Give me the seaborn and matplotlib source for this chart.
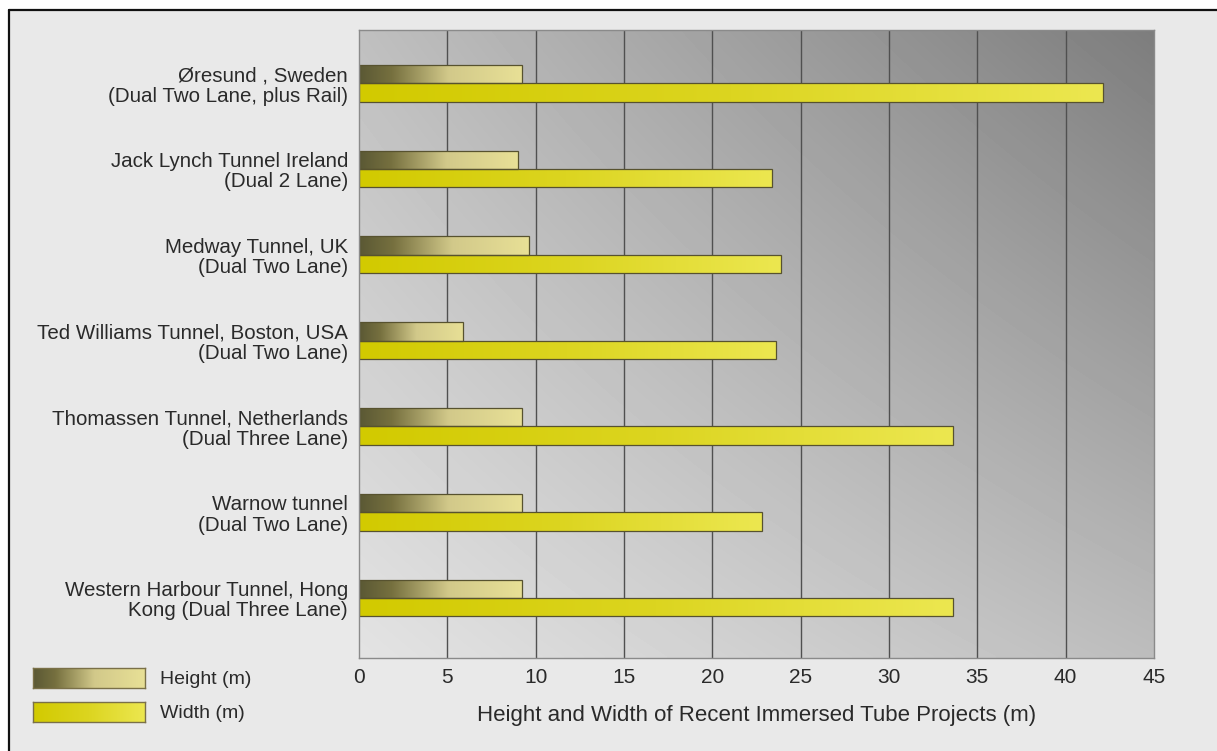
import numpy as np
import pandas as pd
import matplotlib
matplotlib.use("Agg")
import matplotlib.pyplot as plt
from matplotlib.colors import LinearSegmentedColormap
from matplotlib.lines import Line2D
import seaborn as sns

# data
projects = [
    "Øresund , Sweden\n(Dual Two Lane, plus Rail)",
    "Jack Lynch Tunnel Ireland\n(Dual 2 Lane)",
    "Medway Tunnel, UK\n(Dual Two Lane)",
    "Ted Williams Tunnel, Boston, USA\n(Dual Two Lane)",
    "Thomassen Tunnel, Netherlands\n(Dual Three Lane)",
    "Warnow tunnel\n(Dual Two Lane)",
    "Western Harbour Tunnel, Hong\nKong (Dual Three Lane)",
]
height_m = [9.2, 9.0, 9.6, 5.9, 9.2, 9.2, 9.2]
width_m = [42.1, 23.4, 23.9, 23.6, 33.6, 22.8, 33.6]
measures = ["Height (m)", "Width (m)"]
xticks = [0, 5, 10, 15, 20, 25, 30, 35, 40, 45]

df = pd.DataFrame({
    "project": projects * 2,
    "measure": [measures[0]] * len(projects) + [measures[1]] * len(projects),
    "value": height_m + width_m,
})

sns.set_style("white")
plt.rcParams["font.family"] = ["Liberation Sans", "DejaVu Sans"]

height_cmap = LinearSegmentedColormap.from_list(
    "h", [(0, "#5a5834"), (0.2, "#76703f"), (0.55, "#d2c98a"), (1, "#e8e096")])
width_cmap = LinearSegmentedColormap.from_list(
    "w", [(0, "#d2ca00"), (0.5, "#dcd520"), (1, "#ece750")])
txt_col = "#2a2a2a"

fig = plt.figure(figsize=(12.17, 7.51), dpi=100)
fig.patch.set_facecolor("white")
# outer frame panel
fig.patches.append(plt.Rectangle((9 / 1217, 0), 1, 1 - 10 / 751, transform=fig.transFigure,
                                 facecolor="#e9e9e9", edgecolor="none", zorder=-10))
fig.add_artist(Line2D([9 / 1217, 9 / 1217], [0, 1 - 10 / 751], color="#111111", lw=1.6,
                      transform=fig.transFigure))
fig.add_artist(Line2D([9 / 1217, 1], [1 - 10 / 751, 1 - 10 / 751], color="#111111", lw=1.6,
                      transform=fig.transFigure))

ax = fig.add_axes([359 / 1217, 1 - 658 / 751, (1154 - 359) / 1217, (658 - 30) / 751])

sns.barplot(data=df, y="project", x="value", hue="measure", orient="h",
            width=0.43, gap=0, legend=False, ax=ax,
            edgecolor="#57522f", linewidth=0.9)

# gradient fill for each bar
for i, p in enumerate(list(ax.patches)):
    x0, y0 = p.get_x(), p.get_y()
    w, h = p.get_width(), p.get_height()
    cmap = height_cmap if i < len(projects) else width_cmap
    grad = np.linspace(0, 1, 256).reshape(1, -1)
    p.set_facecolor("none")
    im = ax.imshow(grad, cmap=cmap, aspect="auto", extent=[x0, x0 + w, y0 + h, y0],
                   zorder=p.get_zorder() - 0.1, interpolation="bilinear")
    im.set_clip_path(p)

# background gradient (light bottom-left to dark top-right)
ylo, yhi = 6.70, -0.62
xx = np.linspace(0, 1, 200)[None, :]
up = (1 - np.linspace(0, 1, 200))[:, None]  # 1 at top row
bg = 0.89 - 0.15 * xx - 0.14 * up - 0.11 * xx * up
ax.imshow(bg, cmap="gray", vmin=0, vmax=1, aspect="auto", origin="upper",
          extent=[0, 45, ylo, yhi], zorder=-5, interpolation="bilinear")

ax.set_xlim(0, 45)
ax.set_ylim(ylo, yhi)
ax.set_xticks(xticks)
ax.set_xticklabels([str(t) for t in xticks])
for t in xticks[1:-1]:
    ax.axvline(t, color="#505050", lw=1.0, zorder=0)

for s in ax.spines.values():
    s.set_color("#8a8a8a")
    s.set_linewidth(1.0)

ax.tick_params(axis="x", length=0, pad=7, labelsize=15, labelcolor=txt_col)
ax.tick_params(axis="y", length=0, pad=8, labelsize=14.8, labelcolor=txt_col)
for lab in ax.get_yticklabels():
    lab.set_linespacing(1.1)
    lab.set_horizontalalignment("right")
    lab.set_multialignment("right")
ax.set_ylabel("")
ax.set_xlabel("Height and Width of Recent Immersed Tube Projects (m)", fontsize=16,
              color=txt_col, labelpad=13)

# legend swatches in the lower-left corner
for k, (cmap, ytop) in enumerate([(height_cmap, 668), (width_cmap, 702)]):
    lax = fig.add_axes([33 / 1217, 1 - (ytop + 20) / 751, 112 / 1217, 20 / 751])
    lax.imshow(np.linspace(0, 1, 256).reshape(1, -1), cmap=cmap, aspect="auto")
    lax.set_xticks([])
    lax.set_yticks([])
    for s in lax.spines.values():
        s.set_color("#7a7048")
        s.set_linewidth(1.0)
    fig.text(160 / 1217, 1 - (ytop + 11) / 751, measures[k], fontsize=14,
             color=txt_col, va="center", ha="left")

fig.savefig("out.png", dpi=100, facecolor=fig.get_facecolor())
